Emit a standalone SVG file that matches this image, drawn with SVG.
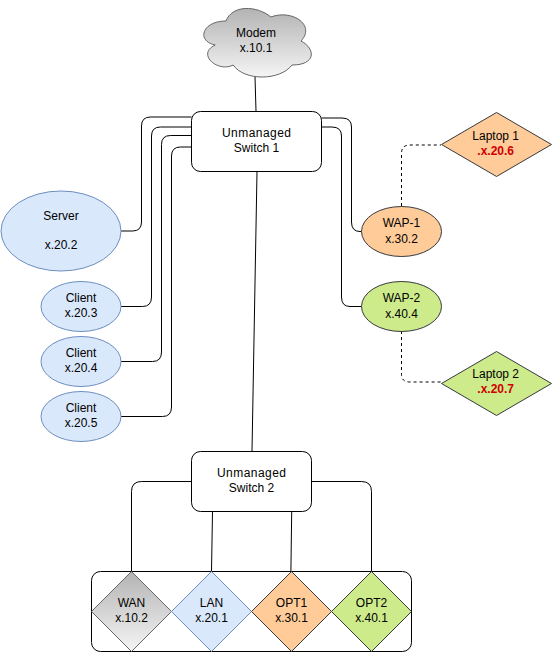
<svg xmlns="http://www.w3.org/2000/svg" width="553" height="654" viewBox="0 0 553 654">
<style>
text{font-family:"Liberation Sans",Arial,sans-serif;font-size:12px;fill:#000;text-anchor:middle}
.red{fill:#d00000;font-weight:bold}
.c{fill:none;stroke:#000;stroke-width:1}
.d{fill:none;stroke:#000;stroke-width:1;stroke-dasharray:3 3}
.sw{fill:#fff;stroke:#000;stroke-width:1}
.blue{fill:#dae8fc;stroke:#6c8ebf}
.orange{fill:#ffcc99;stroke:#36393d}
.green{fill:#cdeb8b;stroke:#36393d}
</style>
<defs>
<linearGradient id="g" x1="0" y1="0" x2="0" y2="1"><stop offset="0" stop-color="#b3b3b3"/><stop offset="1" stop-color="#f5f5f5"/></linearGradient>
</defs>
<rect width="553" height="654" fill="#fff"/>
<g id="connectors">
<path class="c" d="M255 77L256 111"/>
<path class="c" d="M191.500 117H150.500Q141.500 117 141.500 126V222Q141.500 231 132.500 231H121"/>
<path class="c" d="M191.500 127H160.500Q151.500 127 151.500 136V297Q151.500 306.500 142.500 306.500H121"/>
<path class="c" d="M191.500 135.500H170.500Q161.500 135.500 161.500 144.500V352Q161.500 361.500 152.500 361.500H121"/>
<path class="c" d="M191.500 147H180.500Q171.500 147 171.500 156V407Q171.500 416.500 162.500 416.500H121"/>
<path class="c" d="M321.500 118H342Q351.500 118 351.500 127V222Q351.500 231.500 360 231.500H361.500"/>
<path class="c" d="M321.500 127H332Q341.500 127 341.500 136V297Q341.500 306.500 350 306.500H361.500"/>
<path class="d" d="M401.500 206V153.500Q401.500 145 410 145H441"/>
<path class="d" d="M401.500 331V374.500Q401.500 382 410 382H441"/>
<path class="c" d="M257 171.500L252 451"/>
<path class="c" d="M191.500 481.500H141.500Q131.500 481.500 131.500 491.500V571.500"/>
<path class="c" d="M212.500 511.500L211.500 571.500"/>
<path class="c" d="M291.700 511.500L290.900 571.500"/>
<path class="c" d="M311.500 481.500H361.500Q371.500 481.500 371.500 491.500V571.500"/>
</g>
<g id="modem">
<path d="M226 21C202 21 196 41 215.200 45C196 53.800 217.600 73 233.200 65C244 81 280 81 292 65C316 65 316 49 301 41C316 25 292 9 271 17C256 5 232 5 226 21Z" fill="url(#g)" stroke="#666"/>
<text x="256" y="37">Modem</text><text x="256" y="52">x.10.1</text>
</g>
<g id="switch1">
<rect class="sw" x="191.500" y="111.500" width="130" height="60" rx="9"/>
<text x="256.500" y="137" textLength="69">Unmanaged</text><text x="256.500" y="152">Switch 1</text>
</g>
<g id="server">
<ellipse class="blue" cx="61" cy="231" rx="60" ry="40"/>
<text x="61" y="220">Server</text><text x="61" y="249">x.20.2</text>
</g>
<g id="client1">
<ellipse class="blue" cx="81" cy="306.500" rx="40" ry="25"/>
<text x="81" y="302">Client</text><text x="81" y="317">x.20.3</text>
</g>
<g id="client2">
<ellipse class="blue" cx="81" cy="361.500" rx="40" ry="25"/>
<text x="81" y="357">Client</text><text x="81" y="372">x.20.4</text>
</g>
<g id="client3">
<ellipse class="blue" cx="81" cy="416.500" rx="40" ry="25"/>
<text x="81" y="412">Client</text><text x="81" y="427">x.20.5</text>
</g>
<g id="wap1">
<ellipse class="orange" cx="401.500" cy="231.500" rx="40" ry="25"/>
<text x="401.500" y="227">WAP-1</text><text x="401.500" y="243">x.30.2</text>
</g>
<g id="wap2">
<ellipse class="green" cx="401.500" cy="306.500" rx="40" ry="25"/>
<text x="401.500" y="302">WAP-2</text><text x="401.500" y="318">x.40.4</text>
</g>
<g id="laptop1">
<polygon class="orange" points="496.500,112.500 551.500,144.500 496.500,176.500 441.500,144.500"/>
<text x="495.700" y="140">Laptop 1</text><text class="red" x="495.700" y="155">.x.20.6</text>
</g>
<g id="laptop2">
<polygon class="green" points="496.500,351.500 551.500,383.500 496.500,415.500 441.500,383.500"/>
<text x="495.700" y="378">Laptop 2</text><text class="red" x="495.700" y="393">.x.20.7</text>
</g>
<g id="switch2">
<rect class="sw" x="191.500" y="451.500" width="120" height="60" rx="9"/>
<text x="251.500" y="477" textLength="69">Unmanaged</text><text x="251.500" y="492">Switch 2</text>
</g>
<g id="router">
<rect fill="none" stroke="#000" x="91.500" y="571.500" width="320" height="80" rx="9"/>
</g>
<g id="wan">
<polygon points="131.500,571.500 171.500,611.500 131.500,651.500 91.500,611.500" fill="url(#g)" stroke="#666"/>
<text x="131.500" y="607">WAN</text><text x="131.500" y="622">x.10.2</text>
</g>
<g id="lan">
<polygon class="blue" points="211.500,571.500 251.500,611.500 211.500,651.500 171.500,611.500"/>
<text x="211.500" y="607">LAN</text><text x="211.500" y="622">x.20.1</text>
</g>
<g id="opt1">
<polygon class="orange" points="291.500,571.500 331.500,611.500 291.500,651.500 251.500,611.500"/>
<text x="291.500" y="607">OPT1</text><text x="291.500" y="622">x.30.1</text>
</g>
<g id="opt2">
<polygon class="green" points="371.500,571.500 411.500,611.500 371.500,651.500 331.500,611.500"/>
<text x="371.500" y="607">OPT2</text><text x="371.500" y="622">x.40.1</text>
</g>
</svg>
